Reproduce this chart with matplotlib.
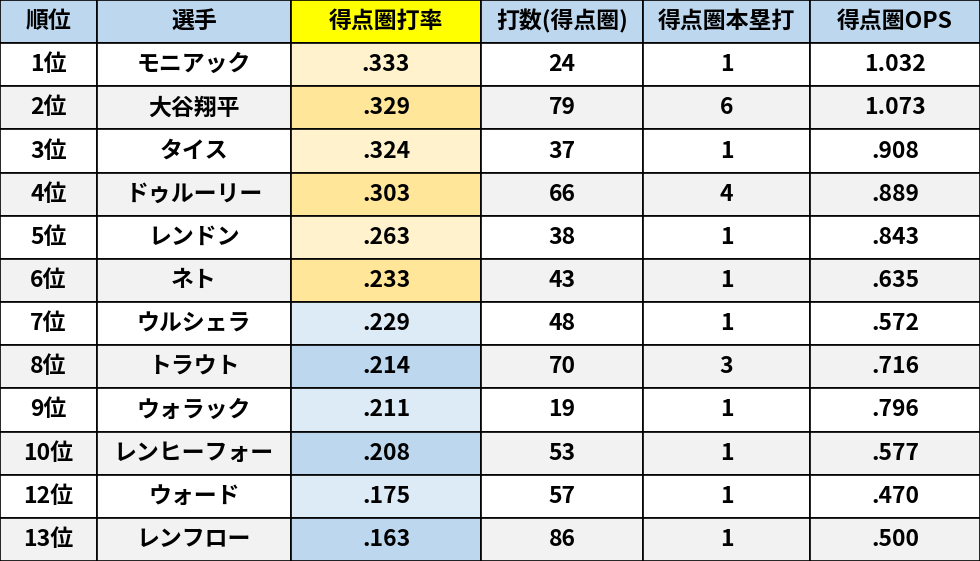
import matplotlib
matplotlib.use("Agg")
import matplotlib.pyplot as plt
from matplotlib.patches import Rectangle

headers = ["順位", "選手", "得点圏打率", "打数(得点圏)", "得点圏本塁打", "得点圏OPS"]
ranks = ["1位", "2位", "3位", "4位", "5位", "6位", "7位", "8位", "9位", "10位", "12位", "13位"]
players = ["モニアック", "大谷翔平", "タイス", "ドゥルーリー", "レンドン", "ネト", "ウルシェラ",
           "トラウト", "ウォラック", "レンヒーフォー", "ウォード", "レンフロー"]
avg = [".333", ".329", ".324", ".303", ".263", ".233", ".229", ".214", ".211", ".208", ".175", ".163"]
ab = [24, 79, 37, 66, 38, 43, 48, 70, 19, 53, 57, 86]
hr = [1, 6, 1, 4, 1, 1, 1, 3, 1, 1, 1, 1]
ops = ["1.032", "1.073", ".908", ".889", ".843", ".635", ".572", ".716", ".796", ".577", ".470", ".500"]

W, H = 980, 561
col_edges = [0, 97, 291, 481, 643, 810, 980]
nrows = len(ranks) + 1
rh = H / nrows

fig = plt.figure(figsize=(9.8, 5.61), dpi=100)
ax = fig.add_axes([0, 0, 1, 1])
ax.set_xlim(0, W)
ax.set_ylim(H, 0)
ax.axis("off")

font = "Noto Sans CJK JP"
rows = [headers] + [[ranks[i], players[i], avg[i], str(ab[i]), str(hr[i]), ops[i]] for i in range(len(ranks))]
for r, row in enumerate(rows):
    y0 = r * rh
    for c, txt in enumerate(row):
        x0, x1 = col_edges[c], col_edges[c + 1]
        if r == 0:
            fc = "#FFFF00" if c == 2 else "#BDD7EE"
        elif c == 2:
            i = r - 1
            if i < 6:
                fc = "#FFF2CC" if i % 2 == 0 else "#FFE699"
            else:
                fc = "#DDEBF7" if i % 2 == 0 else "#BDD7EE"
        else:
            fc = "#FFFFFF" if r % 2 == 1 else "#F2F2F2"
        ax.add_patch(Rectangle((x0, y0), x1 - x0, rh, facecolor=fc, edgecolor="black", linewidth=1.2))
        ax.text((x0 + x1) / 2, y0 + rh / 2, txt, ha="center", va="center",
                fontsize=16.5, fontweight="bold", family=font, color="black")

fig.savefig("out.png", dpi=100)
